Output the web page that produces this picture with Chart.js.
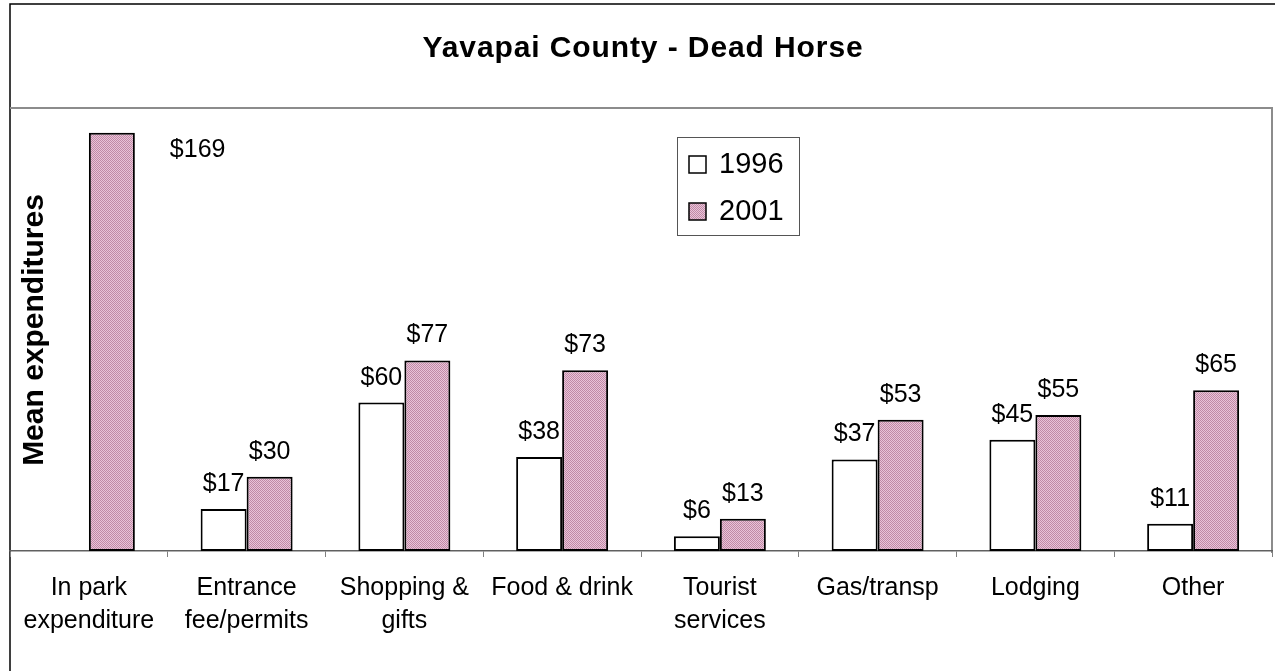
<!DOCTYPE html>
<html>
<head>
<meta charset="utf-8">
<script src="https://cdn.jsdelivr.net/npm/chart.js@4"></script>
<style>
  body { margin: 0; background: #fff; }
  #wrap { width: 1275px; height: 671px; }
</style>
</head>
<body>
<div id="wrap"><canvas id="spendChart" width="1275" height="671"></canvas></div>
<script>
const categories = [
    ['In park', 'expenditure'],
    ['Entrance', 'fee/permits'],
    ['Shopping &', 'gifts'],
    'Food & drink',
    ['Tourist', 'services'],
    'Gas/transp',
    'Lodging',
    'Other'
];
const seriesNames = ['1996', '2001'];
const values1996 = [null, 17, 60, 38, 6, 37, 45, 11];
const values2001 = [169, 30, 77, 73, 13, 53, 55, 65];
const yMin = 0;
const yMax = 179;

const FONT = '"Liberation Sans", Arial, sans-serif';

// pink dotted fill like the old excel pattern
function makePattern() {
    const p = document.createElement('canvas');
    p.width = 2; p.height = 2;
    const pc = p.getContext('2d');
    pc.fillStyle = '#e9c3d8';
    pc.fillRect(0, 0, 2, 2);
    pc.fillStyle = '#c08aa6';
    pc.fillRect(0, 0, 1, 1);
    pc.fillRect(1, 1, 1, 1);
    return p;
}

const ctx = document.getElementById('spendChart').getContext('2d');
const pinkFill = ctx.createPattern(makePattern(), 'repeat');

const framePlugin = {
    id: 'frame',
    beforeDraw(chart) {
        const c = chart.ctx;
        const a = chart.chartArea;
        c.save();
        // outer frame
        c.strokeStyle = '#000';
        c.lineWidth = 1.5;
        c.beginPath();
        c.moveTo(10, 671);
        c.lineTo(10, 4);
        c.lineTo(1275, 4);
        c.stroke();
        // plot area box
        c.strokeStyle = '#8c8c8c';
        c.lineWidth = 2;
        c.beginPath();
        c.moveTo(a.left, a.top);
        c.lineTo(a.right, a.top);
        c.lineTo(a.right, a.bottom + 2);
        c.stroke();
        c.restore();
    },
    afterDraw(chart) {
        const c = chart.ctx;
        const a = chart.chartArea;
        c.save();
        c.fillStyle = '#000';

        // title
        c.font = 'bold 30px ' + FONT;
        c.letterSpacing = '0.9px';
        c.textAlign = 'center';
        c.textBaseline = 'alphabetic';
        c.fillText('Yavapai County - Dead Horse', 643, 57);

        // y axis title, sits inside the plot
        c.save();
        c.translate(43, 330);
        c.rotate(-Math.PI / 2);
        c.letterSpacing = '0px';
        c.fillText('Mean expenditures', 0, 0);
        c.restore();
        c.letterSpacing = '0px';

        // value labels
        c.font = '25px ' + FONT;
        chart.data.datasets.forEach((ds, i) => {
            const meta = chart.getDatasetMeta(i);
            meta.data.forEach((bar, j) => {
                const v = ds.data[j];
                if (v === null || v === undefined) return;
                const txt = '$' + v;
                if (bar.y - 35 < a.top) {
                    // no room above: put it beside the bar
                    c.textAlign = 'left';
                    c.fillText(txt, bar.x + bar.width / 2 + 35, bar.y + 24);
                } else {
                    c.textAlign = 'center';
                    c.fillText(txt, bar.x, bar.y - 18);
                }
            });
        });

        // legend box
        c.strokeStyle = '#555';
        c.lineWidth = 1;
        c.strokeRect(677.5, 137.5, 122, 98);
        const fills = ['#fff', pinkFill];
        const rows = [173, 220];
        c.font = '29px ' + FONT;
        c.textAlign = 'left';
        seriesNames.forEach((name, i) => {
            c.fillStyle = fills[i];
            c.fillRect(689, rows[i] - 17, 17, 17);
            c.strokeStyle = '#000';
            c.lineWidth = 1.5;
            c.strokeRect(689, rows[i] - 17, 17, 17);
            c.fillStyle = '#000';
            c.fillText(name, 719, rows[i]);
        });
        c.restore();
    }
};

new Chart(ctx, {
    type: 'bar',
    data: {
        labels: categories,
        datasets: [
            {
                label: seriesNames[0],
                data: values1996,
                backgroundColor: '#ffffff',
                borderColor: '#000',
                borderWidth: 2,
                borderSkipped: false,
                categoryPercentage: 0.583,
                barPercentage: 1.0
            },
            {
                label: seriesNames[1],
                data: values2001,
                backgroundColor: pinkFill,
                borderColor: '#000',
                borderWidth: 2,
                borderSkipped: false,
                categoryPercentage: 0.583,
                barPercentage: 1.0
            }
        ]
    },
    plugins: [framePlugin],
    options: {
        responsive: false,
        animation: false,
        layout: {
            padding: { left: 10, right: 3, top: 108, bottom: 18 }
        },
        scales: {
            x: {
                grid: {
                    offset: true,
                    drawOnChartArea: false,
                    drawTicks: true,
                    tickLength: 6,
                    color: '#808080'
                },
                border: { color: '#606060', width: 1.5 },
                ticks: {
                    color: '#000',
                    font: { family: FONT, size: 25, lineHeight: 1.32 },
                    padding: 15,
                    maxRotation: 0,
                    autoSkip: false
                }
            },
            y: {
                display: false,
                min: yMin,
                max: yMax
            }
        },
        plugins: {
            legend: { display: false },
            title: { display: false },
            tooltip: { enabled: false }
        }
    }
});
</script>
</body>
</html>
